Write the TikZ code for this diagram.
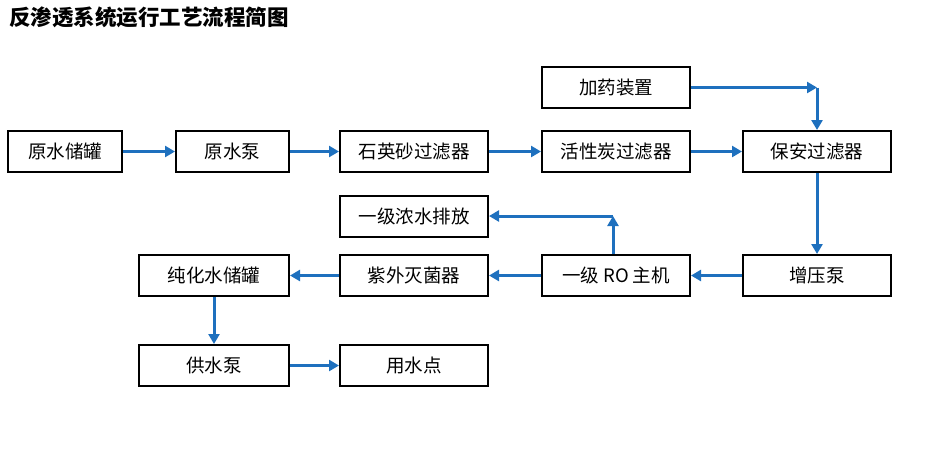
\documentclass[tikz,border=0pt]{standalone}
\usepackage{fontspec}
\newfontfamily\cjk{Noto Sans CJK SC}
\usetikzlibrary{arrows.meta}
\definecolor{pipeblue}{RGB}{30,112,190}

\begin{document}
\begin{tikzpicture}[x=1pt,y=-1pt,
    box/.style={draw, line width=2pt, minimum height=41pt, inner sep=0pt, font=\cjk\fontsize{18.5}{18.5}\selectfont},
    flow/.style={line width=3pt, pipeblue, -{Triangle[length=10pt,width=11pt]}}]
    \useasboundingbox (0,0) rectangle (929,467);

    \node[anchor=base west, inner sep=0pt, font=\cjk\bfseries\fontsize{21.5}{21.5}\selectfont] (title) at (9,25) {反渗透系统运行工艺流程简图};

    % top row
    \node[box, minimum width=148pt] (dosing) at (616,87.5) {加药装置};

    \node[box, minimum width=114pt] (rawtank) at (65,151.5) {原水储罐};
    \node[box, minimum width=113pt] (rawpump) at (232.5,151.5) {原水泵};
    \node[box, minimum width=148pt] (sandfilter) at (414,151.5) {石英砂过滤器};
    \node[box, minimum width=148pt] (carbonfilter) at (616,151.5) {活性炭过滤器};
    \node[box, minimum width=148pt] (safetyfilter) at (817,151.5) {保安过滤器};

    \node[box, minimum width=148pt] (reject) at (414,216) {一级浓水排放};

    \node[box, minimum width=150pt] (puretank) at (214,275.5) {纯化水储罐};
    \node[box, minimum width=148pt] (uvsteril) at (414,275.5) {紫外灭菌器};
    \node[box, minimum width=148pt] (romain) at (616,275.5) {一级 RO 主机};
    \node[box, minimum width=148pt] (booster) at (817,275.5) {增压泵};

    \node[box, minimum width=150pt] (supplypump) at (214,365.5) {供水泵};
    \node[box, minimum width=148pt] (usepoint) at (414,365.5) {用水点};

    % pipes
    \draw[flow] (rawtank) -- (rawpump);
    \draw[flow] (rawpump) -- (sandfilter);
    \draw[flow] (sandfilter) -- (carbonfilter);
    \draw[flow] (carbonfilter) -- (safetyfilter);

    \coordinate (dosecorner) at (safetyfilter.north |- dosing.east);
    \draw[flow] (dosing) -- (dosecorner);
    \draw[flow] (dosecorner) -- (safetyfilter);

    \draw[flow] (safetyfilter) -- (booster);
    \draw[flow] (booster) -- (romain);
    \draw[flow] (romain) -- (uvsteril);
    \draw[flow] (uvsteril) -- (puretank);

    \coordinate (rejcorner) at ([xshift=-3pt]romain.north |- reject.east);
    \draw[flow] ([xshift=-3pt]romain.north) -- (rejcorner);
    \draw[flow] (rejcorner) -- (reject);

    \draw[flow] (puretank) -- (supplypump);
    \draw[flow] (supplypump) -- (usepoint);
\end{tikzpicture}
\end{document}
